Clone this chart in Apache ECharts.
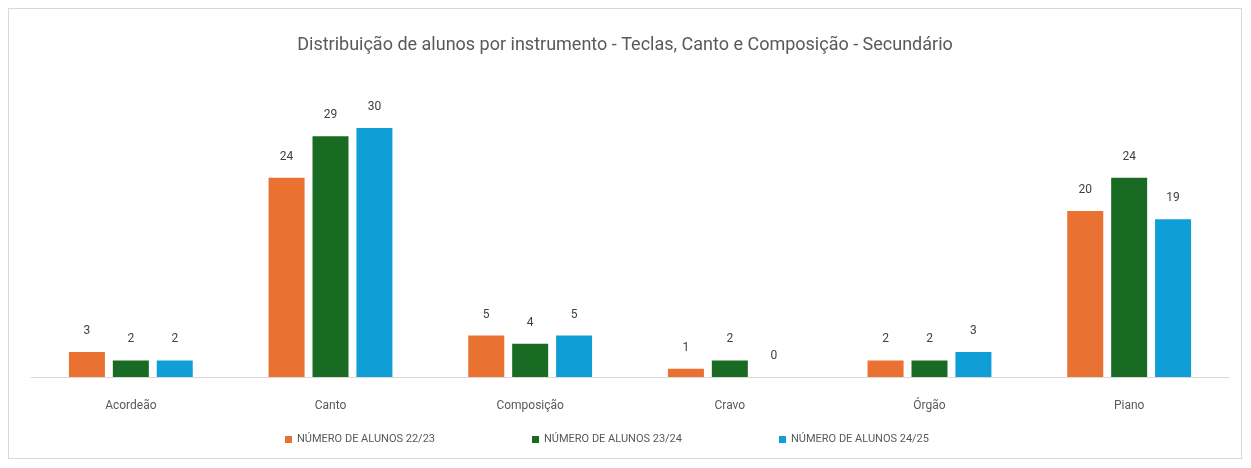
<!DOCTYPE html>
<html><head><meta charset="utf-8">
<script src="https://cdn.jsdelivr.net/npm/echarts@6/dist/echarts.min.js"></script>
<style>html,body{margin:0;padding:0;background:#fff;}#c{position:absolute;left:8px;top:8px;width:1234px;height:451px;border:1px solid #D9D9D9;box-sizing:border-box;}</style>
</head><body><div id="c"></div>
<script>
const categories = ['Acordeão','Canto','Composição','Cravo','Órgão','Piano'];
const seriesNames = ['NÚMERO DE ALUNOS 22/23','NÚMERO DE ALUNOS 23/24','NÚMERO DE ALUNOS 24/25'];
const v2223 = [3,24,5,1,2,20];
const v2324 = [2,29,4,2,2,24];
const v2425 = [2,30,5,0,3,19];
const colors = ['#E97132','#196B24','#0F9ED5'];
const chart = echarts.init(document.getElementById('c'));
const font = 'Roboto, "Noto Sans", sans-serif';
chart.setOption({
  animation:false,
  textStyle:{fontFamily:font},
  title:{text:'Distribuição de alunos por instrumento - Teclas, Canto e Composição - Secundário',left:'center',top:22,textStyle:{fontSize:18,fontWeight:'normal',color:'#595959',fontFamily:font}},
  legend:{bottom:8,left:271,itemWidth:7,itemHeight:7,itemGap:97,icon:'rect',textStyle:{fontSize:11,color:'#595959'},data:seriesNames},
  grid:{left:22,right:12,top:119,bottom:81},
  xAxis:{type:'category',data:categories,axisLine:{lineStyle:{color:'#D9D9D9'}},axisTick:{show:false},axisLabel:{color:'#595959',fontSize:12,margin:23}},
  yAxis:{type:'value',min:0,max:30,show:false,splitLine:{show:false}},
  series:[v2223,v2324,v2425].map((d,i)=>({name:seriesNames[i],type:'bar',data:d,barWidth:36,barGap:'22%',itemStyle:{color:colors[i]},label:{show:true,position:'top',distance:15,color:'#404040',fontSize:12}}))
});
</script></body></html>
